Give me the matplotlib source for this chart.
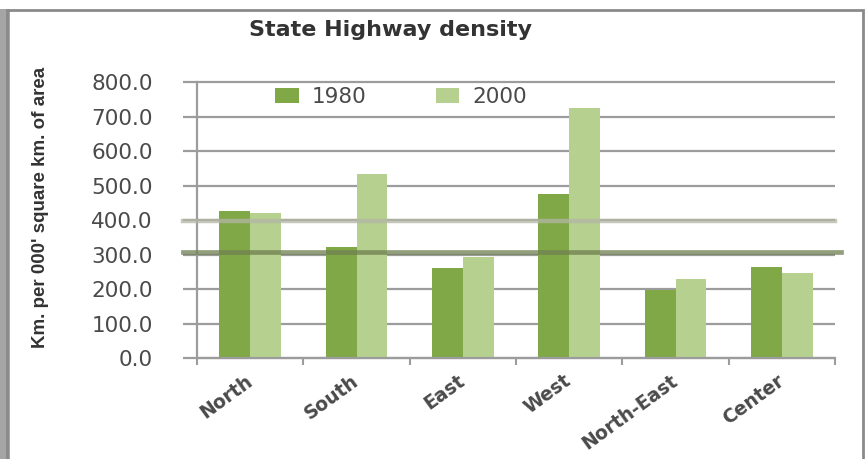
import matplotlib
matplotlib.use("Agg")
import matplotlib.pyplot as plt
from matplotlib.patches import Rectangle
import numpy as np

regions = ["North", "South", "East", "West", "North-East", "Center"]
density_1980 = [426, 321, 262, 475, 196, 265]
density_2000 = [419, 533, 294, 724, 228, 245]
series_labels = ["1980", "2000"]
yticks = [0, 100, 200, 300, 400, 500, 600, 700, 800]
level_1980 = 308
level_2000 = 397

col_1980 = "#80a847"
col_2000 = "#b6d08f"
grid_col = "#9c9c9c"
text_col = "#4a4a4a"

fig = plt.figure(figsize=(8.68, 4.59), dpi=100)
fig.patch.set_facecolor("white")

# outer chart frame
fig.add_artist(Rectangle((0.0, -0.05), 0.012, 1.03, transform=fig.transFigure,
                         facecolor="#8f8f8f", edgecolor="none", alpha=0.8))
fig.add_artist(Rectangle((0.008, -0.05), 0.986, 1.028, transform=fig.transFigure,
                         facecolor="none", edgecolor="#8a8a8a", linewidth=2.0))

ax = fig.add_axes([0.227, 0.22, 0.735, 0.6013])
x = np.arange(len(regions))
w = 0.29

for v in yticks:
    ax.plot([-0.63, 5.5], [v, v], color=grid_col, linewidth=1.6, zorder=1,
            clip_on=False, solid_capstyle="butt")

ax.bar(x - w / 2, density_1980, width=w, color=col_1980, zorder=2, label=series_labels[0])
ax.bar(x + w / 2, density_2000, width=w, color=col_2000, zorder=2, label=series_labels[1])

ax.plot([-0.63, 5.5], [level_2000, level_2000], color="#b3b6a6", linewidth=3.2,
        alpha=0.75, zorder=3, clip_on=False)
ax.plot([-0.63, 5.56], [level_1980, level_1980], color="#6f7f50", linewidth=3.4,
        alpha=0.75, zorder=3, clip_on=False)

ax.set_xlim(-0.5, 5.5)
ax.set_ylim(0, 800)
ax.set_yticks(yticks)
ax.set_yticklabels([f"{v:.1f}" for v in yticks], fontsize=15.5, color=text_col,
                   family="DejaVu Sans")
ax.tick_params(axis="y", length=0, pad=32)

ax.set_xticks(x)
ax.set_xticklabels(regions, rotation=36, ha="right", va="center",
                   rotation_mode="anchor", fontsize=13.5, color=text_col,
                   fontweight="bold")
ax.tick_params(axis="x", length=0, pad=15)
ax.set_xticks(np.arange(-0.5, 6.0, 1.0), minor=True)
ax.tick_params(axis="x", which="minor", length=5, width=1.5, color=grid_col)

for side in ["top", "right"]:
    ax.spines[side].set_visible(False)
ax.spines["left"].set_color(grid_col)
ax.spines["left"].set_linewidth(1.6)
ax.spines["bottom"].set_color(grid_col)
ax.spines["bottom"].set_linewidth(1.6)

ax.set_ylabel("Km. per 000' square km. of area", fontsize=13.5, fontweight="bold",
              color="#333333", family="Liberation Sans")
ax.yaxis.set_label_coords(-0.232, 0.547)

leg = ax.legend(loc="center", bbox_to_anchor=(0.32, 0.945), ncol=2, frameon=False,
                fontsize=15.5, handlelength=1.1, handleheight=0.7, columnspacing=3.2,
                handletextpad=0.6)
for t in leg.get_texts():
    t.set_color(text_col)

fig.text(0.45, 0.935, "State Highway density", ha="center", va="center",
         fontsize=16, fontweight="bold", color="#333333", family="DejaVu Sans")

fig.savefig("out.png", dpi=100)
